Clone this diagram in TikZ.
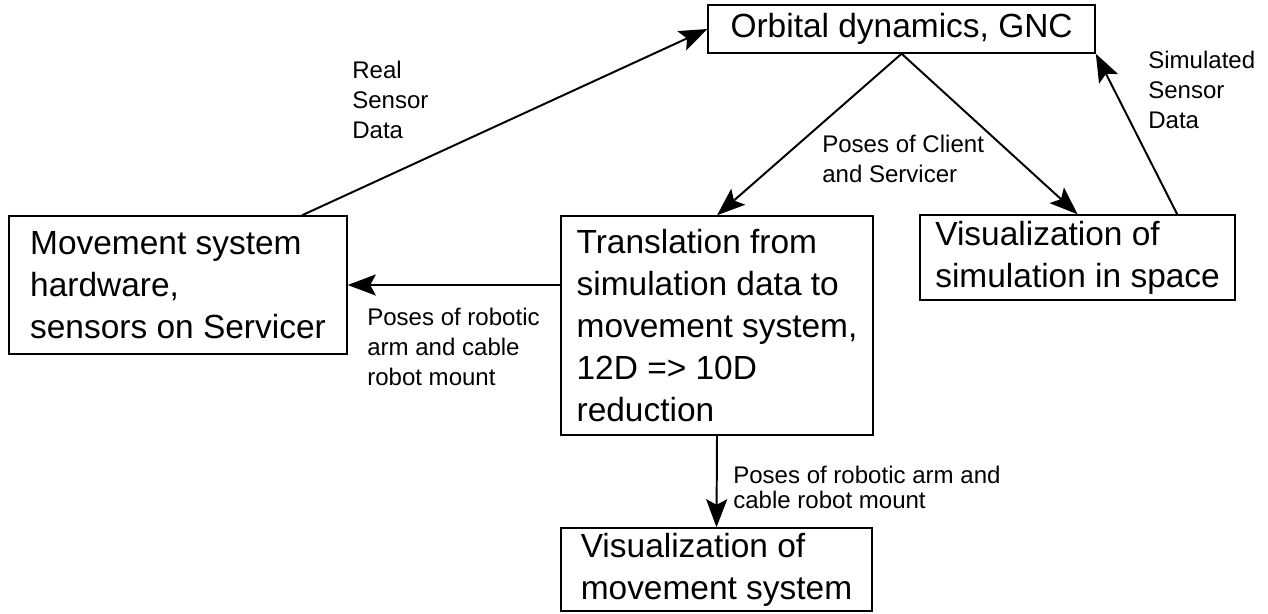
\documentclass[tikz,border=0pt]{standalone}
\usepackage{fontspec}
\setmainfont{Liberation Sans}
\usetikzlibrary{arrows.meta}
\newcommand{\boxfont}{\fontsize{23.8}{29.9}\selectfont}
\newcommand{\lblfont}{\fontsize{17.1}{21.3}\selectfont}

\begin{document}
\begin{tikzpicture}[
    >={Stealth[length=20pt,width=15pt,inset=4pt]},
    block/.style={draw, line width=1pt, align=left, inner sep=0pt, font=\boxfont},
    lbl/.style={anchor=west, align=left, inner sep=0pt, font=\lblfont},
    flow/.style={->, line width=1.4pt}]
    \useasboundingbox (0,0) rectangle (31.7,-15.325);
    % blocks
    \node[block, minimum width=9.675cm, minimum height=1.2cm] (orb) at (22.54,-0.725) {Orbital dynamics, GNC};
    \node[block, minimum width=8.45cm, minimum height=3.45cm] (move) at (4.45,-7.125) {Movement system\\hardware,\\sensors on Servicer};
    \node[block, minimum width=7.8cm, minimum height=5.475cm] (trans) at (17.925,-8.1375) {Translation from\\simulation data to\\movement system,\\12D => 10D\\reduction};
    \node[block, minimum width=7.875cm, minimum height=2.125cm] (vizsim) at (26.94,-6.4375) {Visualization of\\simulation in space};
    \node[block, minimum width=7.775cm, minimum height=2.075cm] (vizmov) at (17.9125,-14.2375) {Visualization of\\movement system};
    % labels
    \node[lbl] (real) at (8.8,-2.5) {Real\\Sensor\\Data};
    \node[lbl] (poses) at (20.55,-3.975) {Poses of Client\\and Servicer};
    \node[lbl] (simul) at (28.7,-2.25) {Simulated\\Sensor\\Data};
    \node[lbl] (arm) at (9.175,-8.675) {Poses of robotic\\arm and cable\\robot mount};
    \node[lbl, font=\fontsize{17.1}{17.8}\selectfont] (armdown) at (18.325,-12.1875) {Poses of robotic arm and\\cable robot mount};
    % connectors
    \draw[flow] ([xshift=3.1cm]move.north) -- (orb.west);
    \draw[flow] (orb.south) -- (trans.north);
    \draw[flow] (orb.south) -- (vizsim.north);
    \draw[flow] ([xshift=2.49cm]vizsim.north) -- (orb.south east);
    \draw[flow] (trans.west |- move.east) -- (move.east);
    \draw[flow] (trans.south) -- (vizmov.north);
\end{tikzpicture}
\end{document}
